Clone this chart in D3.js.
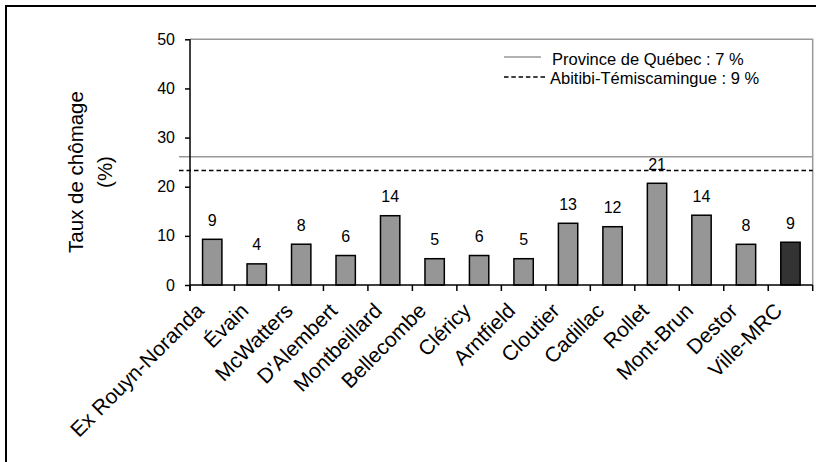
<!DOCTYPE html>
<html><head><meta charset="utf-8">
<script src="https://cdn.jsdelivr.net/npm/d3@7"></script>
<style>html,body{margin:0;padding:0;background:#fff;overflow:hidden}</style>
</head><body>
<svg id="c" width="816" height="462"></svg>
<script>
const categories = ["Ex Rouyn-Noranda","Évain","McWatters","D'Alembert","Montbeillard","Bellecombe","Cléricy","Arntfield","Cloutier","Cadillac","Rollet","Mont-Brun","Destor","Ville-MRC"];
const values = [9.3, 4.3, 8.3, 6.0, 14.1, 5.35, 6.0, 5.35, 12.56, 11.86, 20.7, 14.2, 8.28, 8.7];
const yTicks = [0, 10, 20, 30, 40, 50];
const refNames = ["Province de Québec : 7 %", "Abitibi-Témiscamingue : 9 %"];
const refLevels = [26.1, 23.3];
const yTitle = ["Taux de chômage", "(%)"];

const FONT = "'Liberation Sans', Arial, sans-serif";
const svg = d3.select("#c").style("font-family", FONT);
const L = 190, R = 812.7, T = 39.3, B = 285;

// outer border
svg.append("rect").attr("x", 6).attr("y", 6).attr("width", 840).attr("height", 500)
  .attr("fill", "none").attr("stroke", "#000").attr("stroke-width", 2);

const x = d3.scaleBand().domain(categories).range([L, R]).paddingInner(0.565).paddingOuter(0.2825);
const y = d3.scaleLinear().domain([0, 50]).range([B, T]);

// plot frame (gray top & right)
svg.append("path").attr("d", `M${L},${T}H${R}V${B}`).attr("fill", "none")
  .attr("stroke", "#999").attr("stroke-width", 1.5);

// reference lines
svg.append("line").attr("x1", L - 11).attr("x2", R).attr("y1", y(refLevels[0])).attr("y2", y(refLevels[0]))
  .attr("stroke", "#999").attr("stroke-width", 1.5);
svg.append("line").attr("x1", L - 11).attr("x2", R).attr("y1", y(refLevels[1])).attr("y2", y(refLevels[1]))
  .attr("stroke", "#000").attr("stroke-width", 1.5).attr("stroke-dasharray", "4.5,3");

// bars
svg.append("g").selectAll("rect").data(categories).join("rect")
  .attr("x", d => x(d)).attr("width", x.bandwidth())
  .attr("y", (d, i) => y(values[i])).attr("height", (d, i) => y(0) - y(values[i]))
  .attr("fill", (d, i) => i === categories.length - 1 ? "#333333" : "#969696")
  .attr("stroke", "#000").attr("stroke-width", 1.5);

// value labels
svg.append("g").selectAll("text").data(categories).join("text")
  .attr("x", d => x(d) + x.bandwidth() / 2).attr("y", (d, i) => y(values[i]) - 13.5)
  .attr("text-anchor", "middle").attr("font-size", 16).attr("fill", "#000")
  .text((d, i) => Math.round(values[i]));

// y axis
const ya = svg.append("g").attr("transform", `translate(${L},0)`)
  .call(d3.axisLeft(y).tickValues(yTicks).tickSize(5).tickPadding(10).tickFormat(d3.format("d")));
ya.select(".domain").attr("stroke", "#000").attr("stroke-width", 1.5).attr("d", `M0,${T}V${B + 6}`);
ya.selectAll(".tick line").attr("stroke", "#000").attr("stroke-width", 1.5);
ya.selectAll(".tick text").attr("font-size", 16).attr("font-family", FONT).attr("fill", "#000");

// x axis
const step = x.step();
svg.append("line").attr("x1", L).attr("x2", R).attr("y1", B).attr("y2", B)
  .attr("stroke", "#000").attr("stroke-width", 1.5);
svg.append("g").selectAll("line").data(d3.range(categories.length + 1)).join("line")
  .attr("x1", i => L + i * step).attr("x2", i => L + i * step)
  .attr("y1", B).attr("y2", B + 6).attr("stroke", "#000").attr("stroke-width", 1.5);
svg.append("g").selectAll("text").data(categories).join("text")
  .attr("transform", d => `translate(${x(d) + x.bandwidth() / 2 - 7},${B + 27}) rotate(-45)`)
  .attr("text-anchor", "end").attr("font-size", 21).attr("fill", "#000")
  .text(d => d);

// y title
const tt = svg.append("text").attr("transform", "translate(83,172) rotate(-90)")
  .attr("text-anchor", "middle").attr("font-size", 20.5).attr("fill", "#000");
tt.append("tspan").attr("x", 0).attr("y", 0).text(yTitle[0]);
tt.append("tspan").attr("x", 0).attr("y", 29).text(yTitle[1]);

// legend
const lg = svg.append("g");
lg.append("line").attr("x1", 504).attr("x2", 541).attr("y1", 57).attr("y2", 57)
  .attr("stroke", "#999").attr("stroke-width", 1.5);
lg.append("line").attr("x1", 504).attr("x2", 545).attr("y1", 77).attr("y2", 77)
  .attr("stroke", "#000").attr("stroke-width", 1.5).attr("stroke-dasharray", "4.5,2.8");
lg.append("text").attr("x", 552).attr("y", 65).attr("font-size", 16.5).attr("fill", "#000").text(refNames[0]);
lg.append("text").attr("x", 550).attr("y", 83.5).attr("font-size", 16.5).attr("fill", "#000").text(refNames[1]);
</script>
</body></html>
